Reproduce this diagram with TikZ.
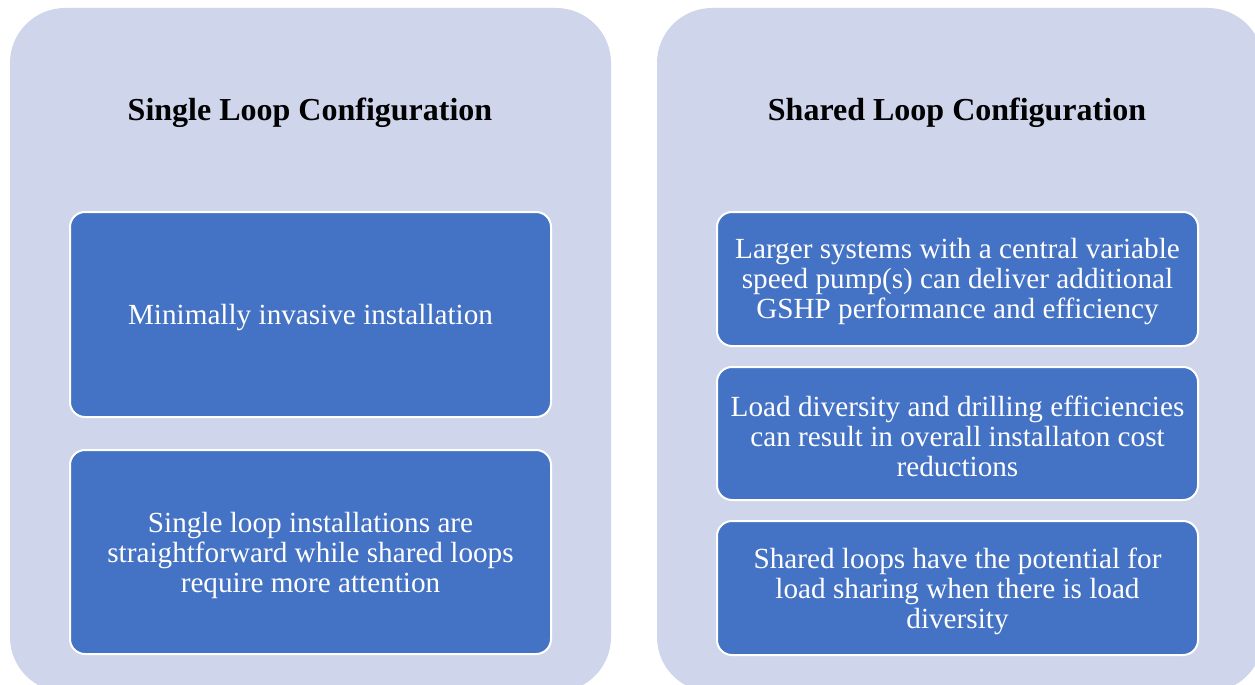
\documentclass[tikz,border=0pt]{standalone}
\usepackage{fontspec}
\setmainfont{Liberation Serif}
\definecolor{contfill}{HTML}{CFD5EA}
\definecolor{boxfill}{HTML}{4472C4}
\tikzset{
  container/.style={fill=contfill, draw=none, rounded corners=55pt, inner sep=0pt},
  itembox/.style={fill=boxfill, draw=white, line width=2pt, rounded corners=15pt, inner sep=0pt,
    minimum width=481pt},
  itemtext/.style={text=white, align=center, inner sep=0pt, yshift=-3pt,
    font=\fontsize{29.2}{30}\selectfont},
  title/.style={font=\bfseries\fontsize{32}{36}\selectfont, text=black, inner sep=0pt}
}
\begin{document}
\begin{tikzpicture}[x=1pt,y=-1pt]
\useasboundingbox (0,0) rectangle (1255,685);
\clip (0,0) rectangle (1255,685);
\fill[white] (0,0) rectangle (1255,685);
% containers
\node[container, minimum width=601pt, minimum height=684pt] (cl) at (310.5,350) {};
\node[container, minimum width=606pt, minimum height=684pt] (cr) at (960,350) {};
% titles
\node[title] (tl) at (310,113) {Single Loop Configuration};
\node[title] (tr) at (957,113) {Shared Loop Configuration};
% left boxes
\node[itembox, minimum height=205pt, label={[itemtext]center:Minimally invasive installation}] (l1) at (310.5,314.5) {};
\node[itembox, minimum height=204pt, label={[itemtext]center:Single loop installations are\\straightforward while shared loops\\require more attention}] (l2) at (310.5,552) {};
% right boxes
\node[itembox, minimum height=134pt, label={[itemtext]center:Larger systems with a central variable\\speed pump(s) can deliver additional\\GSHP performance and efficiency}] (r1) at (957.5,279) {};
\node[itembox, minimum height=133pt, label={[itemtext]center:Load diversity and drilling efficiencies\\can result in overall installaton cost\\reductions}] (r2) at (957.5,433.5) {};
\node[itembox, minimum height=134pt, label={[itemtext]center:Shared loops have the potential for\\load sharing when there is load\\diversity}] (r3) at (957.5,588) {};
\end{tikzpicture}
\end{document}
